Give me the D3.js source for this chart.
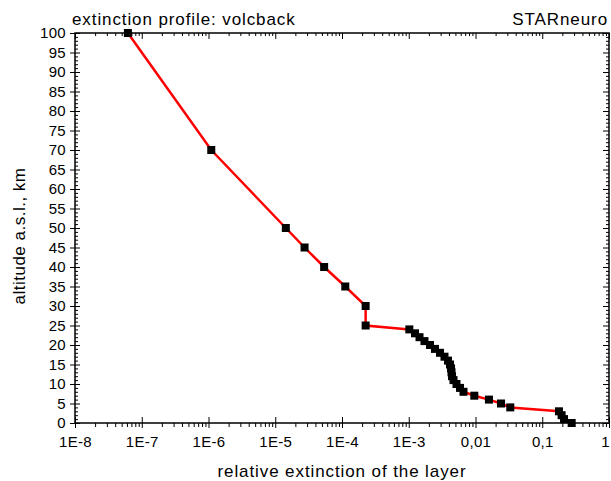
<!DOCTYPE html>
<html>
<head>
<meta charset="utf-8">
<script src="https://cdn.jsdelivr.net/npm/d3@7"></script>
<style>
  body { margin: 0; background: #fff; }
  text { font-family: Arial, "Liberation Sans", sans-serif; fill: #000; }
</style>
</head>
<body>
<svg id="chart" width="611" height="481"></svg>
<script>
// altitude (km) and relative extinction
const altitude = [100, 70, 50, 45, 40, 35, 30, 25, 24, 23, 22, 21, 20, 19, 18, 17, 16, 15,
    14, 13, 12, 11, 10, 9, 8, 7, 6, 5, 4, 3, 2, 1, 0];
const extinction = [6.2e-8, 1.1e-6, 1.44e-5, 2.75e-5, 5.4e-5, 1.12e-4, 2.26e-4, 2.26e-4,
    1.02e-3, 1.24e-3, 1.45e-3, 1.72e-3, 2.08e-3, 2.47e-3, 2.94e-3, 3.43e-3, 3.87e-3, 4.15e-3,
    4.3e-3, 4.37e-3, 4.45e-3, 4.68e-3, 5.19e-3, 5.86e-3, 6.61e-3, 9.6e-3, 0.0159, 0.0241,
    0.0332, 0.178, 0.195, 0.212, 0.276];
const xTickValues = [1e-8, 1e-7, 1e-6, 1e-5, 1e-4, 1e-3, 1e-2, 1e-1, 1];
const xTickLabels = ["1E-8", "1E-7", "1E-6", "1E-5", "1E-4", "1E-3", "0,01", "0,1", "1"];
const yTickValues = d3.range(0, 101, 5);

const points = altitude.map((a, i) => ({alt: a, ext: extinction[i]}));

const svg = d3.select("#chart");
const margin = {left: 75, right: 2, top: 33, bottom: 58};
const width = 611 - margin.left - margin.right;
const height = 481 - margin.top - margin.bottom;

const x = d3.scaleLog().domain([1e-8, 1]).range([0, width]);
const y = d3.scaleLinear().domain([0, 100]).range([height, 0]);

const g = svg.append("g").attr("transform", `translate(${margin.left},${margin.top})`);

// minor ticks for the log axis (2..9 of each decade)
const xMinor = [];
for (let e = -8; e < 0; e++) {
    for (let m = 2; m <= 9; m++) xMinor.push(m * Math.pow(10, e));
}
const yMinor = d3.range(0, 101, 1).filter(v => v % 5 !== 0);

function drawAxisLines(sel) {
    sel.selectAll("path.domain").remove();
    sel.selectAll("line").attr("stroke", "#000").attr("stroke-width", 1);
}

// bottom axis
g.append("g")
    .attr("transform", `translate(0,${height})`)
    .call(d3.axisBottom(x).tickValues(xTickValues).tickFormat((d, i) => xTickLabels[i])
        .tickSizeInner(5).tickSizeOuter(0).tickPadding(8))
    .call(drawAxisLines)
    .call(s => s.selectAll("text").style("font-size", "15px").style("letter-spacing", "0.3px"))
    .call(s => s.selectAll("text").filter(d => d === 1).attr("dx", -4));
g.append("g")
    .attr("transform", `translate(0,${height})`)
    .call(d3.axisBottom(x).tickValues(xTickValues).tickFormat("").tickSize(-6).tickSizeOuter(0))
    .call(drawAxisLines);
g.append("g")
    .attr("transform", `translate(0,${height})`)
    .call(d3.axisBottom(x).tickValues(xMinor).tickFormat("").tickSize(4).tickSizeOuter(0))
    .call(drawAxisLines);

// top axis (ticks inward)
g.append("g")
    .call(d3.axisTop(x).tickValues(xTickValues).tickFormat("").tickSize(-6).tickSizeOuter(0))
    .call(drawAxisLines);
g.append("g")
    .call(d3.axisTop(x).tickValues(xMinor).tickFormat("").tickSize(-3).tickSizeOuter(0))
    .call(drawAxisLines);

// left axis
g.append("g")
    .call(d3.axisLeft(y).tickValues(yTickValues).tickSizeInner(5).tickSizeOuter(0).tickPadding(4))
    .call(drawAxisLines)
    .call(s => s.selectAll("text").style("font-size", "15px").style("letter-spacing", "0.3px"));
g.append("g")
    .call(d3.axisLeft(y).tickValues(yTickValues).tickFormat("").tickSize(-5).tickSizeOuter(0))
    .call(drawAxisLines);
g.append("g")
    .call(d3.axisLeft(y).tickValues(yMinor).tickFormat("").tickSize(-3).tickSizeOuter(0))
    .call(drawAxisLines);

// right axis (ticks inward)
g.append("g")
    .attr("transform", `translate(${width},0)`)
    .call(d3.axisRight(y).tickValues(yTickValues).tickFormat("").tickSize(-6).tickSizeOuter(0))
    .call(drawAxisLines);
g.append("g")
    .attr("transform", `translate(${width},0)`)
    .call(d3.axisRight(y).tickValues(yMinor).tickFormat("").tickSize(-3).tickSizeOuter(0))
    .call(drawAxisLines);

// frame
g.append("rect")
    .attr("width", width)
    .attr("height", height)
    .attr("fill", "none")
    .attr("stroke", "#000")
    .attr("stroke-width", 1.5);

// profile line
const line = d3.line()
    .x(d => x(d.ext))
    .y(d => y(d.alt));

g.append("path")
    .datum(points)
    .attr("d", line)
    .attr("fill", "none")
    .attr("stroke", "#ff0000")
    .attr("stroke-width", 2.5);

const sq = 8;
g.selectAll("rect.pt")
    .data(points)
    .enter().append("rect")
    .attr("class", "pt")
    .attr("x", d => x(d.ext) - sq / 2)
    .attr("y", d => y(d.alt) - sq / 2)
    .attr("width", sq)
    .attr("height", sq)
    .attr("fill", "#000");

// titles
svg.append("text")
    .attr("x", 72)
    .attr("y", 25)
    .style("font-size", "17px")
    .style("letter-spacing", "0.9px")
    .text("extinction profile: volcback");

svg.append("text")
    .attr("x", 608)
    .attr("y", 25)
    .attr("text-anchor", "end")
    .style("font-size", "17px")
    .style("letter-spacing", "0.9px")
    .text("STARneuro");

svg.append("text")
    .attr("x", 342)
    .attr("y", 477)
    .attr("text-anchor", "middle")
    .style("font-size", "17px")
    .style("letter-spacing", "0.9px")
    .text("relative extinction of the layer");

svg.append("text")
    .attr("transform", "translate(25,236) rotate(-90)")
    .attr("text-anchor", "middle")
    .style("font-size", "17px")
    .style("letter-spacing", "0.5px")
    .text("altitude a.s.l., km");
</script>
</body>
</html>
